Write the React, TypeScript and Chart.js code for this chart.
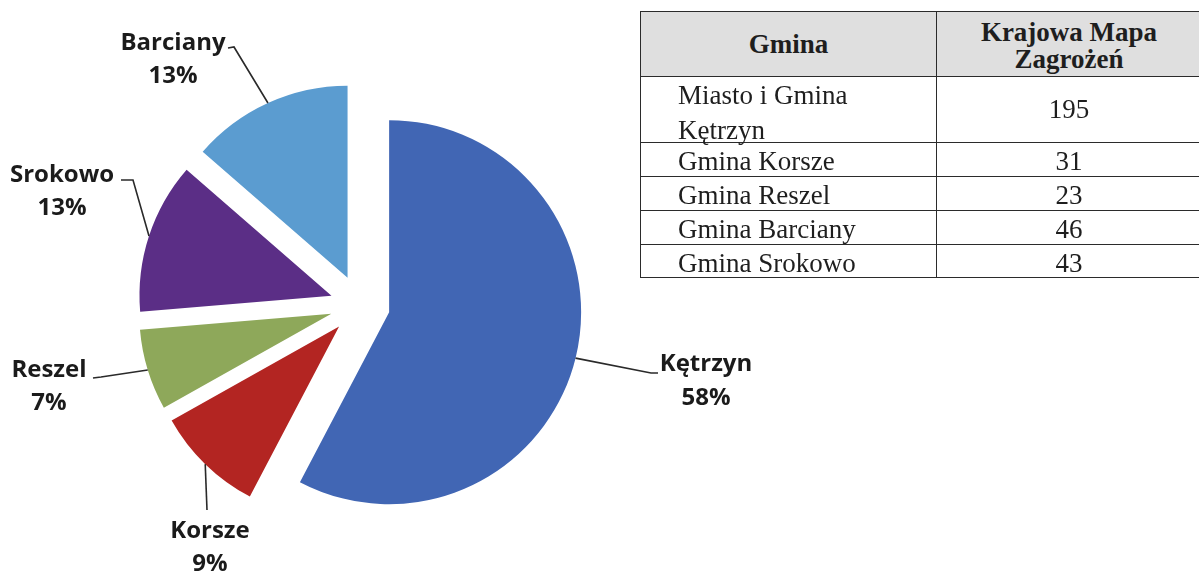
import React, { useEffect, useRef } from "react";
import { Chart, registerables } from "chart.js";

Chart.register(...registerables);

// ---- Data ----
const gminaNames = ["Miasto i Gmina Kętrzyn", "Gmina Korsze", "Gmina Reszel", "Gmina Barciany", "Gmina Srokowo"];
const mapValues = [195, 31, 23, 46, 43];
const tableHeaders = ["Gmina", "Krajowa Mapa Zagrożeń"];

const pieLabels = ["Kętrzyn", "Korsze", "Reszel", "Srokowo", "Barciany"];
const pieValues = [195, 31, 23, 43, 46];
const piePercentLabels = ["58%", "9%", "7%", "13%", "13%"];
const pieColors = ["#4166B4", "#B32522", "#8EA85A", "#5B2E86", "#5B9CD0"];

// ---- Style / layout ----
const EXPLODE = 30; // px each slice is pulled out along its mid-angle (Excel-style explosion)

// Outside labels: text centre x, baselines, leader elbow & end
const labelLayout = [
  { x: 706, b1: 371, b2: 405, elbow: [651, 373], end: [658, 373] },
  { x: 210, b1: 538, b2: 571, elbow: [207, 510], end: [207, 510] },
  { x: 49, b1: 377, b2: 410, elbow: [101, 377], end: [93, 378] },
  { x: 62, b1: 182, b2: 215, elbow: [133, 180], end: [121, 180] },
  { x: 173, b1: 50, b2: 83, elbow: [234, 47], end: [228, 48] },
];

// Pull each slice out by EXPLODE pixels (pure translation, no radius change)
const explodePlugin = {
  id: "explodeSlices",
  afterDatasetsUpdate(chart: any) {
    const meta = chart.getDatasetMeta(0);
    meta.data.forEach((arc: any) => {
      const mid = (arc.startAngle + arc.endAngle) / 2;
      arc.x = arc.x + Math.cos(mid) * EXPLODE;
      arc.y = arc.y + Math.sin(mid) * EXPLODE;
    });
  },
};

const labelPlugin = {
  id: "outsideLabels",
  afterDraw(chart: any) {
    const ctx = chart.ctx;
    const meta = chart.getDatasetMeta(0);
    ctx.save();
    meta.data.forEach((arc: any, i: number) => {
      const { x, y, startAngle, endAngle, outerRadius } = arc;
      const mid = (startAngle + endAngle) / 2;
      const ax = x + Math.cos(mid) * outerRadius;
      const ay = y + Math.sin(mid) * outerRadius;
      const L = labelLayout[i];
      ctx.strokeStyle = "#2a2a2a";
      ctx.lineWidth = 1.6;
      ctx.beginPath();
      ctx.moveTo(ax, ay);
      ctx.lineTo(L.elbow[0], L.elbow[1]);
      ctx.lineTo(L.end[0], L.end[1]);
      ctx.stroke();
      ctx.fillStyle = "#1b1b1b";
      ctx.font = "bold 24px 'Open Sans'";
      ctx.textAlign = "center";
      ctx.textBaseline = "alphabetic";
      ctx.fillText(pieLabels[i], L.x, L.b1);
      ctx.fillText(piePercentLabels[i], L.x, L.b2);
    });
    ctx.restore();
  },
};

const border = "1.6px solid #2b2b2b";
const rowHeights = [66, 66, 34, 34, 34, 33];

export default function App() {
  const canvasRef = useRef<HTMLCanvasElement | null>(null);

  useEffect(() => {
    document.body.style.margin = "0";
    const chart = new Chart(canvasRef.current as HTMLCanvasElement, {
      type: "pie",
      data: {
        labels: pieLabels,
        datasets: [
          {
            data: pieValues,
            backgroundColor: pieColors,
            borderWidth: 0,
            offset: 0,
            clip: false as any,
          },
        ],
      },
      options: {
        responsive: false,
        animation: false,
        radius: 192,
        layout: { padding: { left: 0, right: 479, top: 39, bottom: 0 } },
        events: [],
        plugins: { legend: { display: false }, tooltip: { enabled: false } },
      } as any,
      plugins: [explodePlugin, labelPlugin],
    });
    return () => chart.destroy();
  }, []);

  const cellBase: React.CSSProperties = {
    position: "absolute",
    boxSizing: "border-box",
    fontFamily: "'Liberation Serif', 'Times New Roman', serif",
    fontSize: "27px",
    color: "#1e1e1e",
  };

  let y = 0;
  const rows: React.ReactNode[] = [];
  rows.push(
    <div key="h" style={{ position: "absolute", left: 0, top: 0, width: 560, height: rowHeights[0], background: "#dfdfdf", borderTop: border, borderBottom: border, borderLeft: border, boxSizing: "border-box" }}>
      <div style={{ ...cellBase, left: 0, top: 0, width: 295, height: "100%", fontWeight: "bold", textAlign: "center", lineHeight: "27px", paddingTop: 19 }}>{tableHeaders[0]}</div>
      <div style={{ ...cellBase, left: 295, top: 0, width: 265, height: "100%", fontWeight: "bold", textAlign: "center", lineHeight: "27px", paddingTop: 7, borderLeft: border, paddingLeft: 0 }}>
        <div style={{ width: 200, margin: "0 auto" }}>{tableHeaders[1]}</div>
      </div>
    </div>
  );
  y = rowHeights[0];
  gminaNames.forEach((name, i) => {
    const h = rowHeights[i + 1];
    const two = i === 0;
    rows.push(
      <div key={i} style={{ position: "absolute", left: 0, top: y - 1, width: 560, height: h + 1, borderBottom: border, borderLeft: border, boxSizing: "border-box" }}>
        <div style={{ ...cellBase, left: 0, top: 0, width: 295, height: "100%", paddingLeft: 37, lineHeight: two ? "35px" : "31px", paddingTop: two ? 2 : 4 }}>
          <div style={{ width: 215 }}>{name}</div>
        </div>
        <div style={{ ...cellBase, left: 295, top: 0, width: 265, height: "100%", borderLeft: border, textAlign: "center", lineHeight: two ? `${h}px` : "31px", paddingTop: two ? 0 : 4 }}>{mapValues[i]}</div>
      </div>
    );
    y += h;
  });

  return (
    <div style={{ position: "relative", width: 1199, height: 571, overflow: "hidden", background: "#fff" }}>
      <canvas ref={canvasRef} width={1199} height={571} style={{ position: "absolute", left: 0, top: 0, width: 1199, height: 571 }} />
      <div style={{ position: "absolute", left: 640, top: 11, width: 560, height: 268 }}>{rows}</div>
    </div>
  );
}
